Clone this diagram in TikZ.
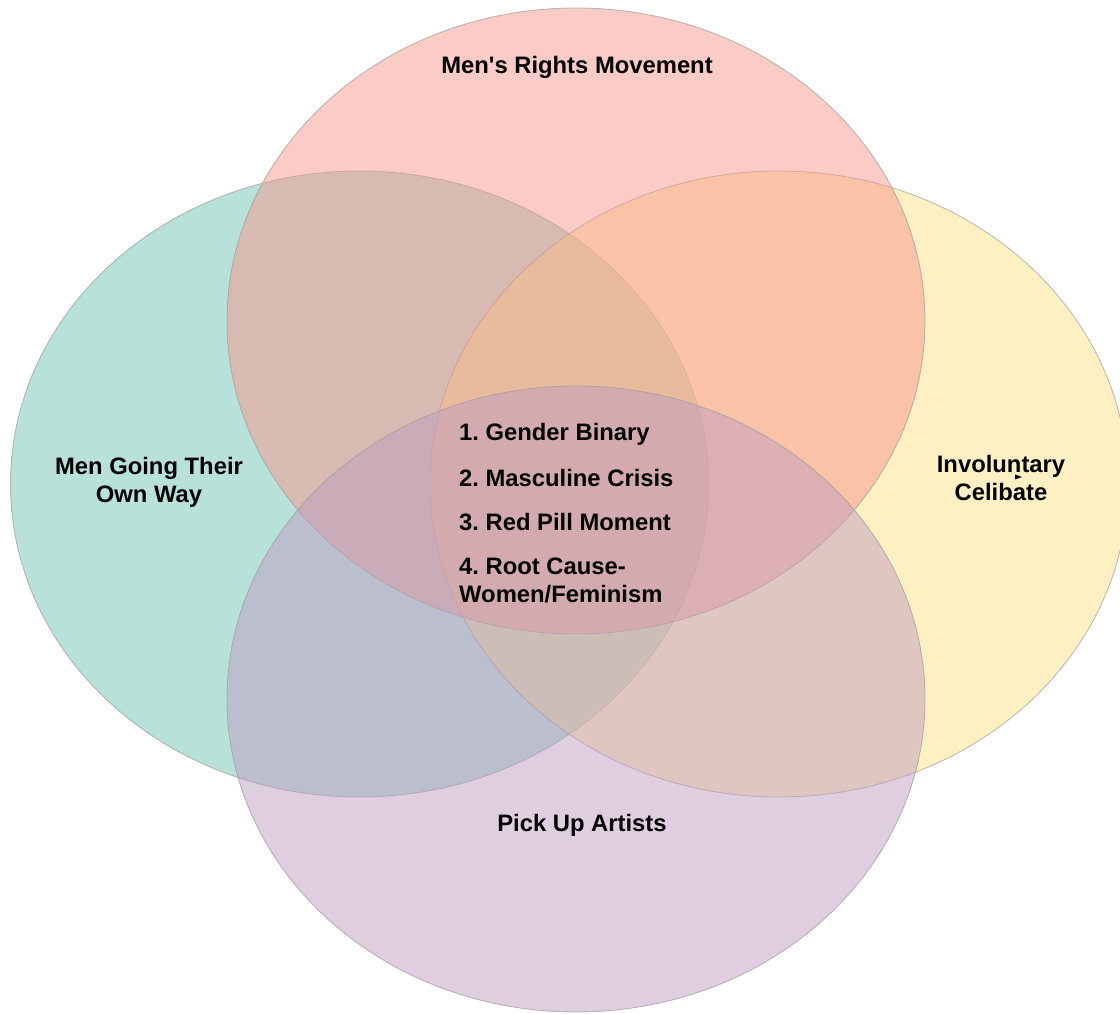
\documentclass[tikz,border=0pt]{standalone}
\usepackage{fontspec}
\setmainfont{Liberation Sans}[Ligatures=TeXOff]
\usetikzlibrary{shapes.geometric,calc}
\definecolor{cteal}{RGB}{113,195,181}
\definecolor{cyellow}{RGB}{255,225,137}
\definecolor{cpurple}{RGB}{191,157,191}
\definecolor{cpink}{RGB}{247,151,139}
\definecolor{cedge}{RGB}{160,160,160}
\tikzset{
  setshape/.style={ellipse, draw=cedge, line width=0.9pt, fill opacity=0.5, draw opacity=0.7,
    minimum width=698pt, minimum height=626pt, inner sep=0pt},
  lbl/.style={font=\bfseries\fontsize{23.8}{28}\selectfont\frenchspacing, text=black, align=center, inner sep=0pt},
}
\begin{document}
\begin{tikzpicture}[x=1pt,y=-1pt]
\useasboundingbox (0,0) rectangle (1120,1014);
\node[setshape, fill=cteal] (mgtow) at (359.5,484) {};
\node[setshape, fill=cyellow] (incel) at (779,484) {};
\node[setshape, fill=cpink] (mrm) at (576,321) {};
\node[setshape, fill=cpurple] (pua) at (576,699) {};
\node[lbl] (tmrm) at (577,67) {Men's Rights Movement};
\node[lbl] (tmgtow) at (149,482) {Men Going Their\\Own Way};
\node[lbl] (tincel) at (1001,478) {Involuntary\\Celibate};
\node[lbl] (tpua) at (582,825) {Pick Up Artists};
\node[lbl, anchor=west, align=left] (c1) at (459,434) {1. Gender Binary};
\node[lbl, anchor=west, align=left] (c2) at (459,478) {2. Masculine Crisis};
\node[lbl, anchor=west, align=left] (c3) at (459,522) {3. Red Pill Moment};
\node[lbl, anchor=west, align=left] (c4) at (459,580) {4. Root Cause-\\Women/Feminism};
\coordinate (tri) at (1018,477);
\fill[black] ($(tri)+(-3,-2.5)$) -- ($(tri)+(4,0)$) -- ($(tri)+(-3,2.5)$) -- cycle;
\end{tikzpicture}
\end{document}
